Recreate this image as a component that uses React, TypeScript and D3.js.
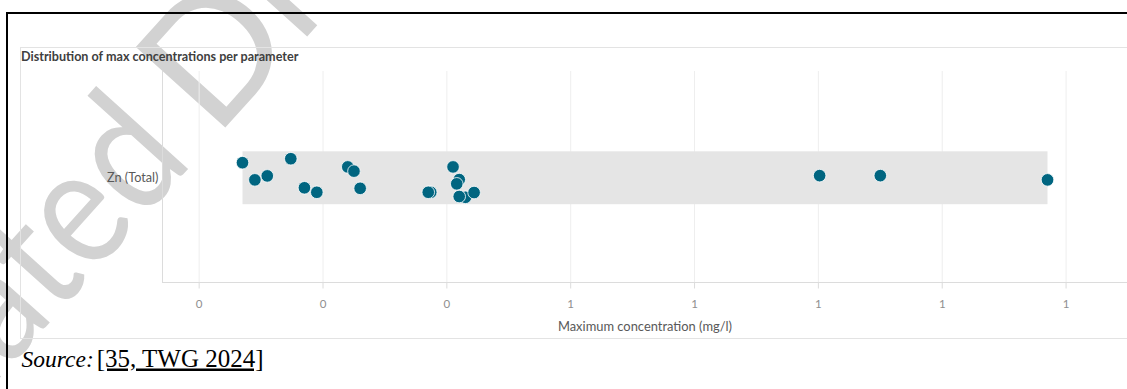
import React from "react";
import * as d3 from "d3";

// ---------- data ----------
const categories = ["Zn (Total)"];
// maximum concentrations (mg/l), in drawing order
const maxConcentration = [
  0.235, 0.245, 0.255, 0.274, 0.285, 0.295, 0.32, 0.325, 0.33, 0.387,
  0.385, 0.405, 0.41, 0.408, 0.415, 0.41, 0.422, 0.701, 0.75, 0.885,
];
// vertical jitter of each point, as a fraction of the half box height
const jitter = [
  -0.57, 0.08, -0.07, -0.72, 0.38, 0.55, -0.41, -0.25, 0.4, 0.55,
  0.55, -0.41, 0.07, 0.23, 0.74, 0.71, 0.56, -0.08, -0.08, 0.08,
];
const tickValues = [0.2, 0.3, 0.4, 0.5, 0.6, 0.7, 0.8, 0.9];
const tickLabels = ["0", "0", "0", "1", "1", "1", "1", "1"];

const chartTitle = "Distribution of max concentrations per parameter";
const xAxisTitle = "Maximum concentration (mg/l)";

// ---------- layout ----------
const W = 1127;
const H = 389;
const plot = { left: 162, right: 1128, top: 71, bottom: 282.5 };
const SANS = "Lato, 'Open Sans', sans-serif";
const SERIF = "'Liberation Serif', 'Times New Roman', serif";

export default function App() {
  const [mn, mx] = d3.extent(maxConcentration) as [number, number];
  const pad = (mx - mn) * 0.1;
  const x = d3.scaleLinear().domain([mn - pad, mx + pad]).range([plot.left, plot.right]);
  const y = d3.scaleBand<string>().domain(categories).range([plot.top, plot.bottom]);
  const cy = (y(categories[0]) as number) + y.bandwidth() / 2 + 1;
  const halfBox = y.bandwidth() * 0.125;

  return (
    <svg
      width={W}
      height={H}
      style={{ position: "absolute", left: 0, top: 0, background: "#fff" }}
    >
      {/* watermark */}
      <g transform="translate(215,139) rotate(-48)" fill="#d2d2d2" fontFamily={SANS} fontSize={168}>
        <text transform="translate(-30,0) scale(0.86,1)" textAnchor="end">Outdated</text>
        <text x={0}>Draft</text>
      </g>

      {/* page frame */}
      <path d={`M7,${H} V13 H${W}`} fill="none" stroke="#000" strokeWidth={2} />

      {/* panel */}
      <rect x={20.5} y={47.5} width={1140} height={291} fill="none" stroke="#e3e3e3" />
      <text x={21} y={61} fontFamily={SANS} fontWeight={700} fontSize={12.6} fill="#404040">
        {chartTitle}
      </text>

      {/* grid */}
      {tickValues.map((t, i) => (
        <line key={"g" + i} x1={x(t)} x2={x(t)} y1={plot.top} y2={plot.bottom} stroke="#eeeeee" />
      ))}
      {/* box (range) */}
      <rect
        x={x(mn)}
        y={cy - halfBox}
        width={x(mx) - x(mn)}
        height={halfBox * 2}
        fill="#e5e5e5"
      />
      {/* axes */}
      <line x1={plot.left + 0.5} x2={plot.left + 0.5} y1={plot.top} y2={plot.bottom} stroke="#dcdcdc" />
      <line x1={plot.left} x2={plot.right} y1={plot.bottom} y2={plot.bottom} stroke="#dcdcdc" />
      {tickValues.map((t, i) => (
        <g key={"t" + i}>
          <line x1={x(t)} x2={x(t)} y1={plot.bottom} y2={plot.bottom + 6} stroke="#dcdcdc" />
          <text
            x={x(t)}
            y={308}
            textAnchor="middle"
            fontFamily={SANS}
            fontSize={11.5}
            fill="#8f8f8f"
          >
            {tickLabels[i]}
          </text>
        </g>
      ))}
      <text
        x={(plot.left + plot.right) / 2}
        y={331}
        textAnchor="middle"
        fontFamily={SANS}
        fontSize={12.9}
        fill="#595959"
      >
        {xAxisTitle}
      </text>
      {categories.map((c) => (
        <text
          key={c}
          x={158.5}
          y={cy + 4.5}
          textAnchor="end"
          fontFamily={SANS}
          fontSize={12.7}
          fill="#595959"
        >
          {c}
        </text>
      ))}

      {/* points */}
      {maxConcentration.map((v, i) => (
        <circle
          key={"p" + i}
          cx={x(v)}
          cy={cy + jitter[i] * halfBox}
          r={6.3}
          fill="#006580"
          stroke="#ffffff"
          strokeWidth={0.8}
        />
      ))}

      {/* source */}
      <text x={21.5} y={366.5} fontFamily={SERIF} fontSize={23.5} fill="#000" fontStyle="italic">
        Source:
      </text>
      <text
        x={96.7}
        y={366.5}
        fontFamily={SERIF}
        fontSize={25}
        fill="#000"
        textDecoration="underline"
      >
        [35, TWG 2024]
      </text>
    </svg>
  );
}
